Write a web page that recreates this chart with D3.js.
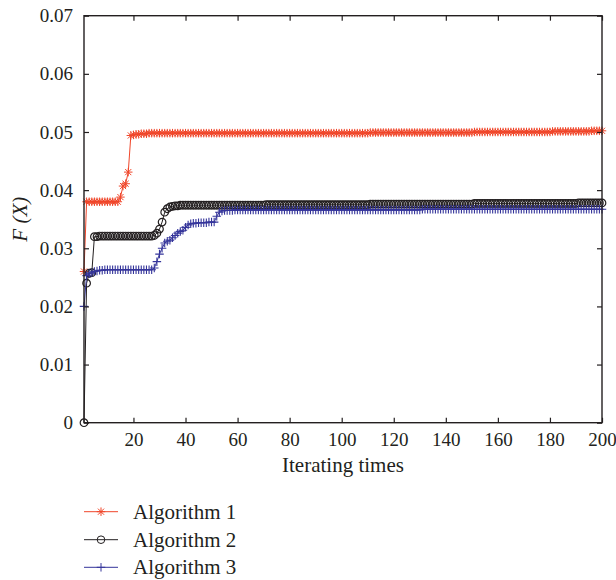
<!DOCTYPE html>
<html>
<head>
<meta charset="utf-8">
<script src="https://cdn.jsdelivr.net/npm/d3@7"></script>
<style>
  html, body { margin: 0; padding: 0; background: #fff; }
  svg text { font-family: "Liberation Serif", "Times New Roman", serif; fill: #231f20; }
</style>
</head>
<body>
<svg id="chart" width="616" height="580"></svg>
<script>
// Iteration index 1..200
const iterations = d3.range(1, 201);

// Best fitness F(X) per iteration, one value per iteration (rows of 10)
const algorithm1 = [
  0.0260, 0.0380, 0.0380, 0.0380, 0.0380, 0.0380, 0.0380, 0.0380, 0.0380, 0.0380,
  0.0380, 0.0380, 0.0380, 0.0380, 0.0388, 0.0407, 0.0411, 0.0431, 0.0494, 0.0495,
  0.0496, 0.0496, 0.0497, 0.0497, 0.0497, 0.0498, 0.0498, 0.0498, 0.0498, 0.0498,
  0.0498, 0.0498, 0.0498, 0.0498, 0.0498, 0.0498, 0.0498, 0.0498, 0.0498, 0.0498,
  0.0498, 0.0498, 0.0498, 0.0498, 0.0498, 0.0498, 0.0498, 0.0498, 0.0498, 0.0498,
  0.0498, 0.0498, 0.0498, 0.0498, 0.0498, 0.0498, 0.0498, 0.0498, 0.0498, 0.0498,
  0.0498, 0.0498, 0.0498, 0.0498, 0.0498, 0.0498, 0.0498, 0.0498, 0.0498, 0.0498,
  0.0498, 0.0498, 0.0498, 0.0498, 0.0498, 0.0498, 0.0498, 0.0498, 0.0498, 0.0498,
  0.0498, 0.0498, 0.0498, 0.0498, 0.0498, 0.0498, 0.0498, 0.0498, 0.0498, 0.0498,
  0.0498, 0.0498, 0.0498, 0.0498, 0.0498, 0.0498, 0.0498, 0.0498, 0.0498, 0.0498,
  0.0498, 0.0498, 0.0498, 0.0498, 0.0498, 0.0498, 0.0498, 0.0498, 0.0498, 0.0498,
  0.0499, 0.0499, 0.0499, 0.0499, 0.0499, 0.0499, 0.0499, 0.0499, 0.0499, 0.0499,
  0.0499, 0.0499, 0.0499, 0.0499, 0.0499, 0.0499, 0.0499, 0.0499, 0.0499, 0.0499,
  0.0499, 0.0499, 0.0499, 0.0499, 0.0499, 0.0499, 0.0499, 0.0499, 0.0499, 0.0499,
  0.0499, 0.0499, 0.0499, 0.0499, 0.0499, 0.0499, 0.0499, 0.0499, 0.0499, 0.0499,
  0.0500, 0.0500, 0.0500, 0.0500, 0.0500, 0.0500, 0.0500, 0.0500, 0.0500, 0.0500,
  0.0500, 0.0500, 0.0500, 0.0500, 0.0500, 0.0500, 0.0500, 0.0500, 0.0500, 0.0500,
  0.0500, 0.0500, 0.0500, 0.0500, 0.0500, 0.0500, 0.0500, 0.0500, 0.0500, 0.0500,
  0.0501, 0.0501, 0.0501, 0.0501, 0.0501, 0.0501, 0.0501, 0.0501, 0.0501, 0.0501,
  0.0501, 0.0501, 0.0501, 0.0501, 0.0501, 0.0502, 0.0502, 0.0502, 0.0502, 0.0502
];

const algorithm2 = [
  0.0000, 0.0240, 0.0257, 0.0258, 0.0320, 0.0320, 0.0321, 0.0321, 0.0321, 0.0321,
  0.0321, 0.0321, 0.0321, 0.0321, 0.0321, 0.0321, 0.0321, 0.0321, 0.0321, 0.0321,
  0.0321, 0.0321, 0.0321, 0.0321, 0.0321, 0.0321, 0.0321, 0.0322, 0.0326, 0.0333,
  0.0345, 0.0362, 0.0368, 0.0371, 0.0372, 0.0373, 0.0373, 0.0374, 0.0374, 0.0374,
  0.0374, 0.0374, 0.0374, 0.0374, 0.0374, 0.0374, 0.0374, 0.0374, 0.0374, 0.0374,
  0.0374, 0.0374, 0.0374, 0.0374, 0.0374, 0.0374, 0.0374, 0.0374, 0.0374, 0.0374,
  0.0374, 0.0374, 0.0374, 0.0374, 0.0374, 0.0374, 0.0374, 0.0374, 0.0374, 0.0374,
  0.0375, 0.0375, 0.0375, 0.0375, 0.0375, 0.0375, 0.0375, 0.0375, 0.0375, 0.0375,
  0.0375, 0.0375, 0.0375, 0.0375, 0.0375, 0.0375, 0.0375, 0.0375, 0.0375, 0.0375,
  0.0375, 0.0375, 0.0375, 0.0375, 0.0375, 0.0375, 0.0375, 0.0375, 0.0375, 0.0375,
  0.0375, 0.0375, 0.0375, 0.0375, 0.0375, 0.0375, 0.0375, 0.0375, 0.0375, 0.0375,
  0.0376, 0.0376, 0.0376, 0.0376, 0.0376, 0.0376, 0.0376, 0.0376, 0.0376, 0.0376,
  0.0376, 0.0376, 0.0376, 0.0376, 0.0376, 0.0376, 0.0376, 0.0376, 0.0376, 0.0376,
  0.0376, 0.0376, 0.0376, 0.0376, 0.0376, 0.0376, 0.0376, 0.0376, 0.0376, 0.0376,
  0.0376, 0.0376, 0.0376, 0.0376, 0.0376, 0.0376, 0.0376, 0.0376, 0.0376, 0.0376,
  0.0377, 0.0377, 0.0377, 0.0377, 0.0377, 0.0377, 0.0377, 0.0377, 0.0377, 0.0377,
  0.0377, 0.0377, 0.0377, 0.0377, 0.0377, 0.0377, 0.0377, 0.0377, 0.0377, 0.0377,
  0.0377, 0.0377, 0.0377, 0.0377, 0.0377, 0.0377, 0.0377, 0.0377, 0.0377, 0.0377,
  0.0377, 0.0377, 0.0377, 0.0377, 0.0377, 0.0377, 0.0377, 0.0377, 0.0377, 0.0377,
  0.0378, 0.0378, 0.0378, 0.0378, 0.0378, 0.0378, 0.0378, 0.0378, 0.0378, 0.0378
];

const algorithm3 = [
  0.0200, 0.0253, 0.0256, 0.0258, 0.0260, 0.0261, 0.0262, 0.0262, 0.0263, 0.0263,
  0.0263, 0.0263, 0.0263, 0.0263, 0.0263, 0.0263, 0.0263, 0.0263, 0.0263, 0.0263,
  0.0263, 0.0263, 0.0263, 0.0263, 0.0263, 0.0263, 0.0263, 0.0266, 0.0277, 0.0290,
  0.0300, 0.0309, 0.0312, 0.0314, 0.0318, 0.0322, 0.0326, 0.0329, 0.0331, 0.0336,
  0.0340, 0.0342, 0.0343, 0.0343, 0.0344, 0.0344, 0.0344, 0.0344, 0.0345, 0.0345,
  0.0345, 0.0355, 0.0362, 0.0364, 0.0365, 0.0365, 0.0365, 0.0365, 0.0366, 0.0366,
  0.0366, 0.0366, 0.0366, 0.0366, 0.0366, 0.0366, 0.0366, 0.0366, 0.0366, 0.0366,
  0.0366, 0.0366, 0.0366, 0.0366, 0.0366, 0.0366, 0.0366, 0.0366, 0.0366, 0.0366,
  0.0366, 0.0366, 0.0366, 0.0366, 0.0366, 0.0366, 0.0366, 0.0366, 0.0366, 0.0366,
  0.0366, 0.0366, 0.0366, 0.0366, 0.0366, 0.0366, 0.0366, 0.0366, 0.0366, 0.0366,
  0.0366, 0.0366, 0.0366, 0.0366, 0.0366, 0.0366, 0.0366, 0.0366, 0.0366, 0.0366,
  0.0366, 0.0366, 0.0366, 0.0366, 0.0366, 0.0366, 0.0366, 0.0366, 0.0366, 0.0366,
  0.0366, 0.0366, 0.0366, 0.0366, 0.0366, 0.0366, 0.0366, 0.0366, 0.0366, 0.0366,
  0.0367, 0.0367, 0.0367, 0.0367, 0.0367, 0.0367, 0.0367, 0.0367, 0.0367, 0.0367,
  0.0367, 0.0367, 0.0367, 0.0367, 0.0367, 0.0367, 0.0367, 0.0367, 0.0367, 0.0367,
  0.0367, 0.0367, 0.0367, 0.0367, 0.0367, 0.0367, 0.0367, 0.0367, 0.0367, 0.0367,
  0.0367, 0.0367, 0.0367, 0.0367, 0.0367, 0.0367, 0.0367, 0.0367, 0.0367, 0.0367,
  0.0367, 0.0367, 0.0367, 0.0367, 0.0367, 0.0367, 0.0367, 0.0367, 0.0367, 0.0367,
  0.0367, 0.0367, 0.0367, 0.0367, 0.0367, 0.0367, 0.0367, 0.0367, 0.0367, 0.0367,
  0.0367, 0.0367, 0.0367, 0.0367, 0.0367, 0.0367, 0.0367, 0.0367, 0.0367, 0.0367
];

const seriesNames = ["Algorithm 1", "Algorithm 2", "Algorithm 3"];
const xTickValues = [20, 40, 60, 80, 100, 120, 140, 160, 180, 200];
const yTickValues = [0, 0.01, 0.02, 0.03, 0.04, 0.05, 0.06, 0.07];
const xTitle = "Iterating times";
const yTitle = "F (X)";

// ---- layout ----
const plot = { left: 84, right: 602, top: 15.7, bottom: 422.7 };
const axisColor = "#231f20";
const serif = '"Liberation Serif", "Times New Roman", serif';
const tickLen = 5;

const svg = d3.select("#chart");

const x = d3.scaleLinear().domain([1, 200]).range([plot.left, plot.right]);
const y = d3.scaleLinear().domain([0, 0.07]).range([plot.bottom, plot.top]);

// marker shapes (MATLAB-like): asterisk, open circle, plus
function markerPath(kind, s) {
  const h = s / 2, d = h * 0.72;
  if (kind === "asterisk") {
    return `M${-h},0L${h},0M0,${-h}L0,${h}M${-d},${-d}L${d},${d}M${-d},${d}L${d},${-d}`;
  }
  if (kind === "plus") {
    return `M${-h},0L${h},0M0,${-h}L0,${h}`;
  }
  const r = h;
  return `M${r},0A${r},${r},0,1,1,${-r},0A${r},${r},0,1,1,${r},0Z`;
}

const series = [
  { name: seriesNames[0], values: algorithm1, color: "#f0462a", marker: "asterisk", size: 8.5, sw: 1 },
  { name: seriesNames[1], values: algorithm2, color: "#231f20", marker: "circle", size: 7.6, sw: 1.2 },
  { name: seriesNames[2], values: algorithm3, color: "#34349a", marker: "plus", size: 8.5, sw: 1.1 }
];

const line = d3.line()
  .x((d, i) => x(iterations[i]))
  .y(d => y(d));

const dataLayer = svg.append("g");
series.forEach(s => {
  const g = dataLayer.append("g");
  g.append("path")
    .attr("d", line(s.values))
    .attr("fill", "none")
    .attr("stroke", s.color)
    .attr("stroke-width", 1);
  g.selectAll("path.mk")
    .data(s.values)
    .join("path")
    .attr("class", "mk")
    .attr("transform", (d, i) => `translate(${x(iterations[i])},${y(d)})`)
    .attr("d", markerPath(s.marker, s.size))
    .attr("fill", "none")
    .attr("stroke", s.color)
    .attr("stroke-width", s.sw);
});

// ---- axes box with inward ticks on all sides ----
const axes = svg.append("g");
axes.append("rect")
  .attr("x", plot.left).attr("y", plot.top)
  .attr("width", plot.right - plot.left).attr("height", plot.bottom - plot.top)
  .attr("fill", "none").attr("stroke", axisColor).attr("stroke-width", 1.4);

const bottomAxis = d3.axisBottom(x).tickValues(xTickValues).tickSize(-tickLen).tickPadding(10).tickFormat(d3.format("d"));
const topAxis = d3.axisTop(x).tickValues(xTickValues).tickSize(-tickLen).tickFormat("");
const leftAxis = d3.axisLeft(y).tickValues(yTickValues).tickSize(-tickLen).tickPadding(11).tickFormat(d => d === 0 ? "0" : d3.format(".2f")(d));
const rightAxis = d3.axisRight(y).tickValues(yTickValues).tickSize(-tickLen).tickFormat("");

function styleAxis(g) {
  g.attr("font-family", null).attr("font-size", null);
  g.select(".domain").remove();
  g.selectAll(".tick line").attr("stroke", axisColor).attr("stroke-width", 1.2);
  g.selectAll(".tick text")
    .attr("fill", axisColor)
    .attr("font-family", serif)
    .attr("font-size", 19);
}

axes.append("g").attr("transform", `translate(0,${plot.bottom})`).call(bottomAxis).call(styleAxis);
axes.append("g").attr("transform", `translate(0,${plot.top})`).call(topAxis).call(styleAxis);
axes.append("g").attr("transform", `translate(${plot.left},0)`).call(leftAxis).call(styleAxis);
axes.append("g").attr("transform", `translate(${plot.right},0)`).call(rightAxis).call(styleAxis);

// ---- axis titles ----
svg.append("text")
  .attr("x", (plot.left + plot.right) / 2)
  .attr("y", 472)
  .attr("text-anchor", "middle")
  .attr("font-family", serif)
  .attr("font-size", 21)
  .text(xTitle);

svg.append("text")
  .attr("transform", `translate(27,${(plot.top + plot.bottom) / 2}) rotate(-90)`)
  .attr("text-anchor", "middle")
  .attr("font-family", serif)
  .attr("font-size", 21)
  .attr("font-style", "italic")
  .text(yTitle);

// ---- legend ----
const legend = svg.append("g");
const legendRows = [511.7, 539.7, 567.3];
series.forEach((s, i) => {
  const row = legend.append("g").attr("transform", `translate(0,${legendRows[i]})`);
  row.append("line")
    .attr("x1", 84).attr("x2", 118).attr("y1", 0).attr("y2", 0)
    .attr("stroke", s.color).attr("stroke-width", 1);
  row.append("path")
    .attr("transform", "translate(101,0)")
    .attr("d", markerPath(s.marker, s.size))
    .attr("fill", "none").attr("stroke", s.color).attr("stroke-width", 1);
  row.append("text")
    .attr("x", 133).attr("y", 0).attr("dy", "0.33em")
    .attr("font-family", serif)
    .attr("font-size", 21)
    .text(s.name);
});
</script>
</body>
</html>
